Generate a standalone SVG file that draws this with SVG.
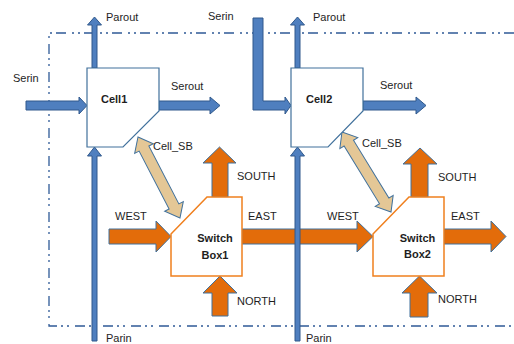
<svg xmlns="http://www.w3.org/2000/svg" width="514" height="344" viewBox="0 0 514 344">
<style>
.t{font-family:"Liberation Sans",Arial,sans-serif;font-size:11px;fill:#1e1e1e}
.b{font-weight:bold}
.blue{fill:#4F7FBF;stroke:#30598C;stroke-width:1}
.org{fill:#E36C0A;stroke:#41719C;stroke-width:1}
.tan{fill:#E4C796;stroke:#41719C;stroke-width:1}
.cell{fill:#fff;stroke:#41719C;stroke-width:1.2}
.sw{fill:#fff;stroke:#F0801E;stroke-width:1.5}
.frame{fill:none;stroke:#2F5A97;stroke-width:1.3;stroke-dasharray:10 4 2 4 2 6}
</style>
<rect width="514" height="344" fill="#fff"/>
<path class="frame" d="M514,33 H49 V326 H514"/>
<g id="connectors">
  <polygon class="org" points="212,197 212,163 203,163 219.5,147 236,163 228,163 228,197"/>
  <polygon class="org" points="411,197 411,164 403,164 420,148 437,164 428,164 428,197"/>
  <polygon class="org" points="212,316 212,293 203,293 220,276 237,293 228,293 228,316"/>
  <polygon class="org" points="410,317 410,293 402,293 419.5,276 437,293 428,293 428,317"/>
  <polygon class="org" points="109,229 156,229 156,221 171,236.5 156,252 156,244 109,244"/>
  <polygon class="org" points="242,229 357,229 357,221 373,236.5 357,252 357,244 242,244"/>
  <polygon class="org" points="444,229 491,229 491,221 506,236.5 491,252 491,244 444,244"/>
  <polygon class="blue" points="92,68 92,25 87.5,25 94.5,17 101.5,25 97,25 97,68"/>
  <polygon class="blue" points="92,341 92,156 87.5,156 94.5,147 101.5,156 97,156 97,341"/>
  <polygon class="blue" points="295,68 295,25 290.5,25 297.5,17 304.5,25 300,25 300,68"/>
  <polygon class="blue" points="295,341 295,156 290.5,156 297.5,147 304.5,156 300,156 300,341"/>
  <polygon class="blue" points="26,101 79,101 79,97 87,105.5 79,114 79,110 26,110"/>
  <polygon class="blue" points="159,101 210,101 210,97 220,105.5 210,114 210,110 159,110"/>
  <polygon class="blue" points="253,18 263,18 263,101 285,101 285,97 291,105.5 285,114 285,110 253,110"/>
  <polygon class="blue" points="363,101 416,101 416,97 426,105.5 416,114 416,110 363,110"/>
  <polygon class="tan" transform="translate(138,137) rotate(62.6)" points="0,0 13,-10.5 13,-5.5 78.2,-5.5 78.2,-10.5 91.2,0 78.2,10.5 78.2,5.5 13,5.5 13,10.5"/>
  <polygon class="tan" transform="translate(342,132) rotate(58.5)" points="0,0 13,-10.5 13,-5.5 80.8,-5.5 80.8,-10.5 93.8,0 80.8,10.5 80.8,5.5 13,5.5 13,10.5"/>
  <text class="t" x="13" y="82">Serin</text>
  <text class="t" x="106" y="21">Parout</text>
  <text class="t" x="171" y="90">Serout</text>
  <text class="t" x="153" y="150">Cell_SB</text>
  <text class="t" x="208" y="20">Serin</text>
  <text class="t" x="313" y="21">Parout</text>
  <text class="t" x="380" y="89">Serout</text>
  <text class="t" x="362" y="147">Cell_SB</text>
  <text class="t" x="237" y="180">SOUTH</text>
  <text class="t" x="438" y="181">SOUTH</text>
  <text class="t" x="115" y="220">WEST</text>
  <text class="t" x="248" y="220">EAST</text>
  <text class="t" x="327" y="220">WEST</text>
  <text class="t" x="451" y="220">EAST</text>
  <text class="t" x="237" y="305">NORTH</text>
  <text class="t" x="438" y="303">NORTH</text>
  <text class="t" x="106" y="342">Parin</text>
  <text class="t" x="306" y="342">Parin</text>
</g>
<g id="cell1">
  <polygon class="cell" points="87,68 159,68 159,111 123,147 87,147"/>
  <text class="t b" x="101" y="103">Cell1</text>
</g>
<g id="cell2">
  <polygon class="cell" points="291,68 363,68 363,111 328,147 291,147"/>
  <text class="t b" x="306" y="103">Cell2</text>
</g>
<g id="switchbox1">
  <polygon class="sw" points="171,234 207,197 242,197 242,276 171,276"/>
  <text class="t b" x="215" y="242" text-anchor="middle">Switch</text>
  <text class="t b" x="215" y="259" text-anchor="middle">Box1</text>
</g>
<g id="switchbox2">
  <polygon class="sw" points="373,234 409,197 444,197 444,276 373,276"/>
  <text class="t b" x="417.5" y="242" text-anchor="middle">Switch</text>
  <text class="t b" x="417.5" y="258" text-anchor="middle">Box2</text>
</g>
</svg>
